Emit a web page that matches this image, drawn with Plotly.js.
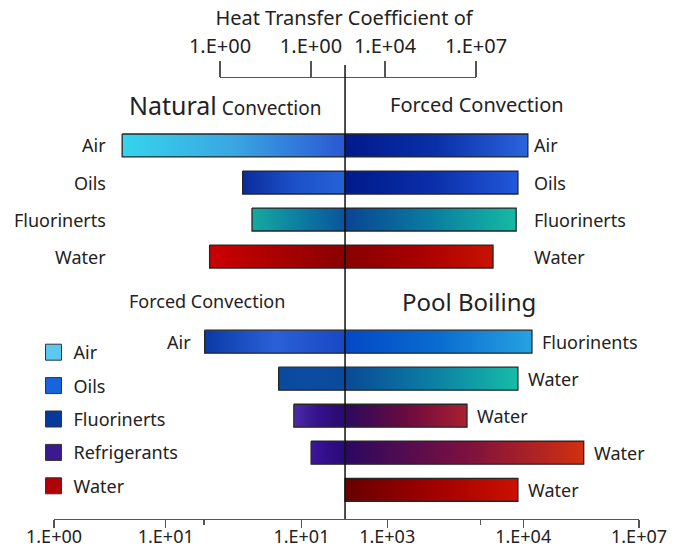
<!DOCTYPE html>
<html>
<head>
<meta charset="utf-8">
<script src="https://cdn.plot.ly/plotly-3.0.1.min.js"></script>
<style>html,body{margin:0;padding:0;background:#fff}#chart{width:683px;height:550px}</style>
</head>
<body>
<div id="chart"></div>
<script>
// ---------- DATA ----------
const upperCategories = ['Air', 'Oils', 'Fluorinerts', 'Water'];
const naturalConvection = [-7.62, -3.50, -3.18, -4.63];     // extends left of centre
const forcedConvectionUpper = [6.25, 5.91, 5.85, 5.06];     // extends right of centre
const naturalColors = [['#36d4ec', '#3aa6e2', '#2a58d4'], ['#0a2c9c', '#1c50c8', '#2462d8'], ['#16aaa0', '#0c7ea2', '#0a549c'], ['#cc0000', '#aa0000', '#8a0000']];
const forcedUpperColors = [['#001a8c', '#0a30a8', '#2a64dc'], ['#001a8a', '#0a2eaa', '#2258d8'], ['#0a4494', '#0a7ca0', '#16baa4'], ['#880000', '#a80000', '#c81200']];

const lowerLeftLabels = ['Air', '', '', '', ''];
const forcedConvectionLower = [-4.80, -2.27, -1.75, -1.16, null];
const forcedLowerColors = [['#0a3aa6', '#2a60d8', '#1a48c4'], ['#0a4a9e', '#0a4ca0', '#0a4a9c'], ['#4a2ca8', '#34108a', '#2a0a70'], ['#3c1698', '#300e88', '#2a0a78'], null];
const poolBoilingLabels = ['Fluorinents', 'Water', 'Water', 'Water', 'Water'];
const poolBoiling = [6.39, 5.91, 4.17, 8.16, 5.91];
const poolColors = [['#0448c6', '#0a6cd0', '#26a2e2'], ['#0a4896', '#0c7ea4', '#16bca8'], ['#2a0a5e', '#6a0a40', '#aa2030'], ['#2a0860', '#7a1040', '#d23010'], ['#680000', '#a00000', '#cc1000']];

const legendLabels = ['Air', 'Oils', 'Fluorinerts', 'Refrigerants', 'Water'];
const legendColors = ['#5cc8f0', '#1864dc', '#08389a', '#3a1a8e', '#b00008'];

const bottomTickVals = [-9.95, -6.13, -1.49, 1.44, 6.09, 10.05];
const bottomTickText = ['1.E+00', '1.E+01', '1.E+01', '1.E+03', '1.E+04', '1.E+07'];
const bottomMinorVals = [-4.82, 4.64];
const topTickVals = [-4.27, -1.16, 1.37, 4.48];
const topTickText = ['1.E+00', '1.E+00', '1.E+04', '1.E+07'];
const titleText = 'Heat Transfer Coefficient of';

// ---------- BUILD ----------
const FONT = 'Noto Sans, Lato, sans-serif';
const TXT = '#222';
const H = 0.31;
const LOWER_OFFSET = 5.3;
const traces = [];

function bar(x0, x1, yc, colors) {
  const n = colors.length - 1;
  return {
    type: 'scatter', mode: 'lines', fill: 'toself',
    x: [x0, x1, x1, x0, x0],
    y: [yc - H, yc - H, yc + H, yc + H, yc - H],
    line: { color: '#262626', width: 1.3 },
    fillgradient: { type: 'horizontal', colorscale: colors.map((c, i) => [i / n, c]) },
    showlegend: false, hoverinfo: 'skip'
  };
}

const annotations = [];
function label(text, x, y, anchor, size) {
  annotations.push({ text: text, x: x, y: y, xref: 'x', yref: 'y', xanchor: anchor, yanchor: 'middle',
    showarrow: false, font: { family: FONT, size: size || 18, color: TXT } });
}

upperCategories.forEach((c, i) => {
  traces.push(bar(naturalConvection[i], 0, i, naturalColors[i]));
  traces.push(bar(0, forcedConvectionUpper[i], i, forcedUpperColors[i]));
  label(c, -8.10, i, 'right');
  label(c, 6.38, i, 'left');
});

poolBoiling.forEach((v, i) => {
  const y = i + LOWER_OFFSET;
  if (forcedConvectionLower[i] !== null) {
    traces.push(bar(forcedConvectionLower[i], 0, y, forcedLowerColors[i]));
    if (lowerLeftLabels[i]) label(lowerLeftLabels[i], forcedConvectionLower[i] - 0.41, y, 'right');
  }
  traces.push(bar(0, v, y, poolColors[i]));
  label(poolBoilingLabels[i], v + 0.28, y, 'left');
});

// section headers
label('<span style="font-size:25px">Natural</span> Convection', -7.45, -1.09, 'left', 19);
label('Forced Convection', 1.47, -1.12, 'left', 20);
label('Forced Convection', -7.45, 4.19, 'left', 18);
label('Pool Boiling', 1.88, 4.22, 'left', 24);

// legend entries
legendLabels.forEach((n, i) => {
  traces.push({ type: 'scatter', mode: 'markers', x: [null], y: [null], name: n, legendgroup: 'g' + i,
    marker: { symbol: 'square', size: 20, color: legendColors[i], line: { color: '#333', width: 1 } },
    hoverinfo: 'skip' });
});

// dummy for top axis
traces.push({ type: 'scatter', x: [null], y: [null], xaxis: 'x2', yaxis: 'y2', showlegend: false, hoverinfo: 'skip' });

const layout = {
  width: 683, height: 550,
  margin: { l: 54, r: 44, t: 0, b: 31 },
  paper_bgcolor: '#fff', plot_bgcolor: 'rgba(0,0,0,0)',
  font: { family: FONT, color: TXT },
  title: { text: titleText, x: 344 / 683, xanchor: 'center', xref: 'container', y: 1 - 18 / 550, yref: 'container', yanchor: 'middle',
    font: { family: FONT, size: 20, color: TXT } },
  xaxis: {
    range: [-9.95, 10.05], showgrid: false, zeroline: false, showline: true, linecolor: '#555', linewidth: 1.3,
    ticks: 'outside', tickvals: bottomTickVals, ticktext: bottomTickText, ticklen: 8, tickcolor: '#555', tickwidth: 1.3,
    minor: { tickvals: bottomMinorVals, ticks: 'outside', ticklen: 5, tickcolor: '#555', tickwidth: 1.3, showgrid: false },
    tickfont: { family: FONT, size: 18, color: TXT }, ticklabelstandoff: -7, fixedrange: true
  },
  yaxis: { range: [10.09, -3.93], visible: false, fixedrange: true },
  xaxis2: {
    anchor: 'y2', side: 'top', domain: [(220 - 54) / 585, (476 - 54) / 585], range: [-4.27, 4.48],
    showgrid: false, zeroline: false, showline: true, linecolor: '#555', linewidth: 1.3,
    ticks: 'outside', ticklen: 16, tickcolor: '#555', tickwidth: 1.3,
    tickvals: topTickVals, ticktext: topTickText, tickfont: { family: FONT, size: 20, color: TXT }, fixedrange: true
  },
  yaxis2: { domain: [0.84, (519 - 78) / 519], visible: false, range: [0, 1], fixedrange: true },
  shapes: [{ type: 'line', xref: 'x', yref: 'paper', x0: 0, x1: 0, y0: 0, y1: (519 - 65) / 519,
    line: { color: '#111', width: 1.5 }, layer: 'above' }],
  annotations: annotations,
  showlegend: true,
  legend: { x: -0.035, y: (519 - 334) / 519, xanchor: 'left', yanchor: 'top', bgcolor: 'rgba(0,0,0,0)',
    font: { family: FONT, size: 18, color: TXT }, traceorder: 'grouped', tracegroupgap: 7, itemclick: false }
};

Plotly.newPlot('chart', traces, layout, { displayModeBar: false, staticPlot: true });
</script>
</body>
</html>
